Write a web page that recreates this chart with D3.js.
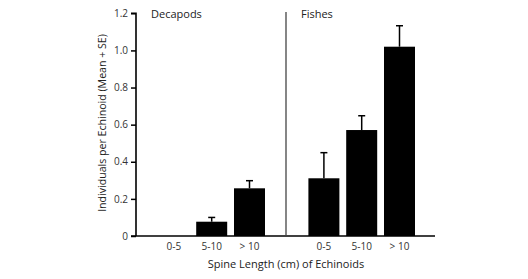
<!DOCTYPE html>
<html><head><meta charset="utf-8">
<script src="https://cdn.jsdelivr.net/npm/d3@7"></script>
<style>body{margin:0;background:#fff}svg{display:block}text{font-family:"Open Sans",sans-serif}</style>
</head><body>
<script>
const categories = ["0-5", "5-10", "> 10"];
const panels = ["Decapods", "Fishes"];
const decapodMean = [0, 0.077, 0.257];
const decapodSE = [0, 0.023, 0.041];
const fishMean = [0.311, 0.571, 1.02];
const fishSE = [0.138, 0.077, 0.113];
const yTicks = [0, 0.2, 0.4, 0.6, 0.8, 1.0, 1.2];

const W = 528, H = 279;
const svg = d3.select("body").append("svg").attr("width", W).attr("height", H);

const x0 = 136, xMid = 286, xEnd = 435;
const y = d3.scaleLinear().domain([0, 1.2]).range([236, 13.3]);

const panelData = [
  {name: panels[0], mean: decapodMean, se: decapodSE, start: x0},
  {name: panels[1], mean: fishMean, se: fishSE, start: xMid}
];

panelData.forEach(p => {
  const x = d3.scaleBand().domain(categories).range([p.start + 19, p.start + 132.4]).paddingInner(0.18).paddingOuter(0.09);
  const g = svg.append("g");
  categories.forEach((c, i) => {
    const v = p.mean[i];
    if (v > 0) {
      g.append("rect").attr("x", x(c)).attr("width", x.bandwidth())
        .attr("y", y(v)).attr("height", y(0) - y(v)).attr("fill", "#000");
      const cx = x(c) + x.bandwidth() / 2;
      g.append("line").attr("x1", cx).attr("x2", cx).attr("y1", y(v)).attr("y2", y(v + p.se[i]))
        .attr("stroke", "#000").attr("stroke-width", 1.5);
      g.append("line").attr("x1", cx - 3.5).attr("x2", cx + 3.5).attr("y1", y(v + p.se[i])).attr("y2", y(v + p.se[i]))
        .attr("stroke", "#000").attr("stroke-width", 1.5);
    }
    g.append("text").attr("x", x(c) + x.bandwidth() / 2).attr("y", 249.5)
      .attr("text-anchor", "middle").attr("font-size", 10).attr("fill", "#333").text(c);
  });
  g.append("text").attr("x", p.start + 15).attr("y", 18).attr("font-size", 11).attr("fill", "#222").text(p.name);
});

// y axis
const yAxis = d3.axisLeft(y).tickValues(yTicks).tickSize(5).tickPadding(3)
  .tickFormat(d => d === 0 ? "0" : d3.format(".1f")(d));
const ya = svg.append("g").attr("transform", `translate(${x0},0)`).call(yAxis);
ya.select(".domain").attr("stroke", "#000").attr("stroke-width", 1.6).attr("d", `M-5,${y(1.2)}H0V${y(0)}`);
ya.selectAll(".tick line").attr("stroke", "#000").attr("stroke-width", 1.5);
ya.selectAll(".tick text").attr("font-size", 10).attr("fill", "#333").attr("font-family", "Open Sans");

// x axis line
svg.append("line").attr("x1", x0 - 5).attr("x2", xEnd).attr("y1", y(0)).attr("y2", y(0))
  .attr("stroke", "#000").attr("stroke-width", 1.6);

// divider
svg.append("line").attr("x1", xMid).attr("x2", xMid).attr("y1", 12).attr("y2", y(0))
  .attr("stroke", "#444").attr("stroke-width", 1.3);

// titles
svg.append("text").attr("x", 286).attr("y", 268).attr("text-anchor", "middle")
  .attr("font-size", 11).attr("fill", "#222").text("Spine Length (cm) of Echinoids");
svg.append("text").attr("transform", "translate(106,123) rotate(-90)").attr("text-anchor", "middle")
  .attr("font-size", 10.6).attr("fill", "#222").text("Individuals per Echinoid (Mean + SE)");
</script>
</body></html>
